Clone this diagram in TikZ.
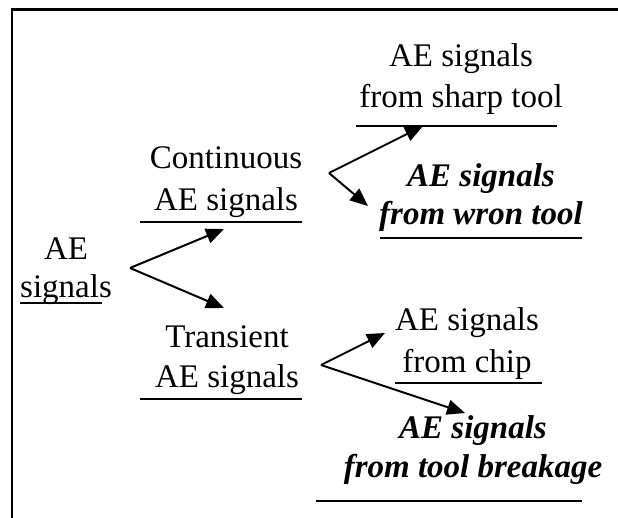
\documentclass[tikz,border=0pt]{standalone}
\usepackage{fontspec}
\setmainfont{Liberation Serif}
\usetikzlibrary{arrows.meta}
\begin{document}
\begin{tikzpicture}[x=1pt,y=-1pt,
  lbl/.style={font=\fontsize{33}{41}\selectfont, inner sep=0pt, anchor=base, align=center},
  bi/.style={inner sep=0pt, anchor=base, align=center, font=\fontsize{33}{39}\selectfont\bfseries\itshape},
  uline/.style={line width=2.2pt},
  arr/.style={line width=2pt, -{Triangle[length=18pt,width=15pt]}},
  frame/.style={line width=2.5pt}]
\useasboundingbox (0,0) rectangle (618,518);
\draw[frame] (12,518) -- (12,9.5) -- (618,9.5);

% labels (anchored at the baseline of the last line)
\node[lbl, font=\fontsize{33}{38}\selectfont] (ae) at (66,298) {AE\\signals};
\node[lbl, font=\fontsize{33}{42}\selectfont] (cont) at (226,211) {Continuous\\AE signals};
\node[lbl, font=\fontsize{33}{40}\selectfont] (trans) at (227,387) {Transient\\AE signals};
\node[lbl] (sharp) at (461,108) {AE signals\\from sharp tool};
\node[bi, font=\fontsize{33}{38}\selectfont\bfseries\itshape] (wron) at (481,225) {AE signals\\from wron tool};
\node[lbl, font=\fontsize{33}{42}\selectfont] (chip) at (467,372) {AE signals\\from chip};
\node[bi] (brk) at (473,477) {AE signals\\from tool breakage};

% underlines
\coordinate (u0a) at (20,303);  \coordinate (u0b) at (102,303);
\coordinate (u1a) at (140,222); \coordinate (u1b) at (302,222);
\coordinate (u2a) at (140,399); \coordinate (u2b) at (302,399);
\coordinate (u3a) at (356,126); \coordinate (u3b) at (557,126);
\coordinate (u4a) at (380,238); \coordinate (u4b) at (582,238);
\coordinate (u5a) at (395,383); \coordinate (u5b) at (542,383);
\coordinate (u6a) at (316,501); \coordinate (u6b) at (582,501);
\foreach \i in {0,...,6} {\draw[uline] (u\i a) -- (u\i b);}

% arrows
\coordinate (v1) at (130,268);
\coordinate (t1a) at (224,229);
\coordinate (t1b) at (224,308);
\coordinate (v2) at (329,173);
\coordinate (t2a) at (423,126);
\coordinate (t2b) at (368,206);
\coordinate (v3) at (321,365);
\coordinate (t3a) at (385,333);
\coordinate (t3b) at (465,413);
\draw[arr] (v1) -- (t1a);
\draw[arr] (v1) -- (t1b);
\draw[arr] (v2) -- (t2a);
\draw[arr] (v2) -- (t2b);
\draw[arr] (v3) -- (t3a);
\draw[arr] (v3) -- (t3b);
\end{tikzpicture}
\end{document}
